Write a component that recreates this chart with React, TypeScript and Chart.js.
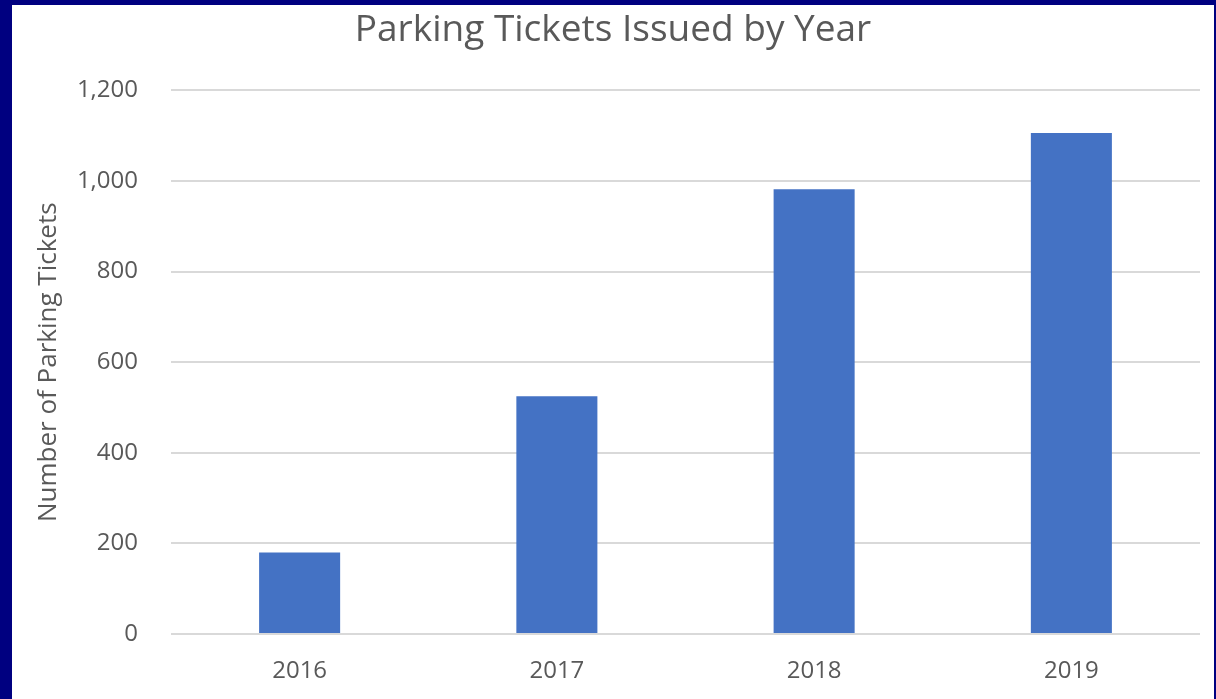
import React, { useEffect, useRef } from "react";
import { Chart, registerables } from "chart.js";

Chart.register(...registerables);

const years = ["2016", "2017", "2018", "2019"];
const tickets = [180, 525, 982, 1106];
const chartTitle = "Parking Tickets Issued by Year";
const yAxisTitle = "Number of Parking Tickets";

const FONT = "'Open Sans', 'Liberation Sans', sans-serif";
const TEXT = "#595959";

export default function App() {
  const ref = useRef<HTMLCanvasElement | null>(null);

  useEffect(() => {
    if (!ref.current) return;
    const chart = new Chart(ref.current, {
      type: "bar",
      data: {
        labels: years,
        datasets: [
          {
            data: tickets,
            backgroundColor: "#4472C4",
            borderWidth: 0,
            categoryPercentage: 1,
            barPercentage: 0.315,
          },
        ],
      },
      options: {
        animation: false,
        responsive: false,
        maintainAspectRatio: false,
        layout: { padding: { left: 14, right: 14, top: 0, bottom: 0 } },
        plugins: {
          legend: { display: false },
          tooltip: { enabled: false },
          title: {
            display: true,
            text: chartTitle,
            color: TEXT,
            font: { family: FONT, size: 37, weight: "normal" },
            padding: { top: 3, bottom: 38 },
          },
        },
        scales: {
          x: {
            grid: { display: false },
            border: { display: false },
            ticks: {
              color: TEXT,
              font: { family: FONT, size: 24 },
              padding: 15,
            },
            afterFit: (s: any) => {
              s.height = 65;
            },
          },
          y: {
            min: 0,
            max: 1200,
            ticks: {
              stepSize: 200,
              color: TEXT,
              font: { family: FONT, size: 24 },
              padding: 33,
              callback: (v: any) => Number(v).toLocaleString("en-US"),
            },
            grid: { color: "#d9d9d9", lineWidth: 2, drawTicks: false },
            border: { display: false },
            title: {
              display: true,
              text: yAxisTitle,
              color: TEXT,
              font: { family: FONT, size: 26 },
              padding: { top: 7, bottom: 0 },
            },
            afterFit: (s: any) => {
              s.width = 145;
            },
          },
        },
      },
    });
    return () => chart.destroy();
  }, []);

  return (
    <div
      style={{
        position: "fixed",
        left: 0,
        top: 0,
        width: 1216,
        height: 699,
        background: "#000080",
      }}
    >
      <div
        style={{
          position: "absolute",
          left: 12,
          top: 5,
          width: 1202,
          height: 694,
          background: "#ffffff",
        }}
      >
        <canvas ref={ref} width={1202} height={694} />
      </div>
    </div>
  );
}
